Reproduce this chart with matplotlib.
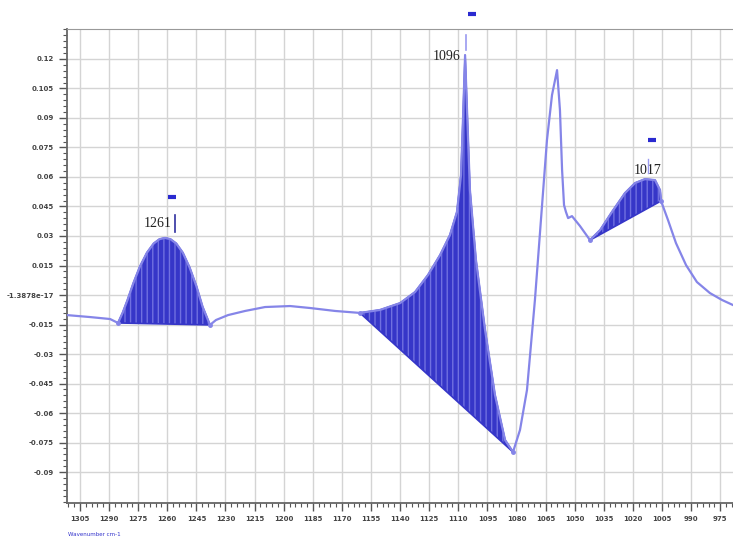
import numpy as np
import matplotlib
matplotlib.use("Agg")
import matplotlib.pyplot as plt
from matplotlib.ticker import MultipleLocator, FixedLocator

# spectrum trace (wavenumber, absorbance)
wavenumber = [1311.7, 1299.8, 1289.5, 1285.4, 1283.0, 1280.5, 1277.5, 1274.1, 1270.5,
              1267.0, 1264.0, 1261.2, 1258.4, 1255.4, 1252.0, 1248.5, 1245.0, 1241.8,
              1238.0, 1234.9, 1228.7,
              1219.9, 1209.6, 1196.7, 1186.4, 1173.5, 1160.7, 1150.4, 1140.0, 1132.3,
              1125.6, 1119.4, 1114.3, 1110.7, 1108.6, 1107.6, 1106.5, 1105.5, 1104.0,
              1100.9, 1096.2, 1091.1, 1085.9, 1081.8, 1078.2, 1074.6, 1070.5, 1067.4,
              1064.3, 1061.7, 1059.1, 1057.6, 1056.5, 1055.5, 1054.5, 1053.4, 1051.4,
              1047.3, 1042.1, 1036.9, 1030.8, 1024.1, 1018.9, 1013.8, 1008.6, 1006.0,
              1005.5, 1001.9, 997.8, 992.6, 987.0, 980.3, 974.1, 968.4]
absorbance = [-0.0102, -0.0112, -0.0122, -0.0142, -0.0090, -0.0025, 0.0060, 0.0145, 0.0215,
              0.0262, 0.0284, 0.0290, 0.0284, 0.0262, 0.0215, 0.0140, 0.0045, -0.0060,
              -0.0152, -0.0127, -0.0102,
              -0.0081, -0.0061, -0.0056, -0.0066, -0.0081, -0.0091, -0.0076, -0.0041, 0.0015,
              0.0102, 0.0203, 0.0305, 0.0422, 0.0610, 0.0889, 0.1219, 0.0940, 0.0533,
              0.0178, -0.0178, -0.0508, -0.0737, -0.0798, -0.0686, -0.0483, -0.0025, 0.0381,
              0.0787, 0.1016, 0.1143, 0.0940, 0.0635, 0.0457, 0.0422, 0.0391, 0.0401,
              0.0351, 0.0279, 0.0330, 0.0422, 0.0518, 0.0569, 0.0589, 0.0584, 0.0533,
              0.0478, 0.0381, 0.0264, 0.0152, 0.0066, 0.0010, -0.0025, -0.0051]

# integrated bands: (start, end) wavenumbers of the straight baseline
band_start = [1285.4, 1160.7, 1042.1]
band_end = [1238.0, 1081.8, 1005.5]

# peak labels and where they are written
peak_labels = ["1261", "1096", "1017"]
label_w = [1264.8, 1115.8, 1012.2]
label_a = [0.0361, 0.1210, 0.0635]
mark_w = [1257.6, 1103.0, 1010.1]
mark_a = [0.0498, 0.1428, 0.0787]

x_ticks = list(range(1305, 970, -15))
y_ticks = [-0.09, -0.075, -0.06, -0.045, -0.03, -0.015, 0.0, 0.015, 0.03,
           0.045, 0.06, 0.075, 0.09, 0.105, 0.12]
y_ticklabels = ["-0.09", "-0.075", "-0.06", "-0.045", "-0.03", "-0.015", "-1.3878e-17",
                "0.015", "0.03", "0.045", "0.06", "0.075", "0.09", "0.105", "0.12"]

LINE = "#8585e8"
FILL = "#3636c8"
HATCH = "#7070e0"

w = np.array(wavenumber)
a = np.array(absorbance)

fig = plt.figure(figsize=(7.33, 5.4), dpi=100)
ax = fig.add_axes([67 / 733, 1 - 503 / 540, 666 / 733, 474 / 540])

ax.grid(True, which="major", color="#d4d4d4", linewidth=1.0)
ax.set_axisbelow(True)

for ws, we in zip(band_start, band_end):
    m = (w <= ws) & (w >= we)
    bw, ba = w[m], a[m]
    i0, i1 = np.argmin(np.abs(w - ws)), np.argmin(np.abs(w - we))
    base = np.interp(bw, [w[i1], w[i0]], [a[i1], a[i0]])
    ax.fill_between(bw, ba, base, facecolor=FILL, edgecolor=HATCH, hatch="|||",
                    linewidth=0, zorder=2)
    ax.plot([w[i0], w[i1]], [a[i0], a[i1]], color=FILL, lw=1.2, zorder=3)
    ax.plot(bw, ba, color=FILL, lw=1.2, zorder=3)
    ax.plot([w[i0], w[i1]], [a[i0], a[i1]], "o", color=LINE, ms=2.5, zorder=4)

ax.plot(w, a, color=LINE, lw=1.6, zorder=3)

for lab, lw_, la in zip(peak_labels, label_w, label_a):
    ax.text(lw_, la, lab, family="Liberation Serif", fontsize=10, color="#222222",
            ha="center", va="center", zorder=5)
for mw, ma in zip(mark_w, mark_a):
    ax.plot([mw + 2.0, mw - 2.0], [ma, ma], color="#2a2ad0", lw=3, solid_capstyle="butt",
            clip_on=False, zorder=5)

# small vertical markers at the picked peaks
ax.plot([1256.0, 1256.0], [0.0320, 0.0407], color="#3030a0", lw=1.2, zorder=5)
ax.plot([1106.0, 1106.0], [0.1245, 0.1320], color="#9a9af0", lw=1.2, zorder=5)
ax.plot([1012.0, 1012.0], [0.0620, 0.0690], color="#9a9af0", lw=1.0, zorder=5)

ax.set_xlim(1311.7, 968.4)
ax.set_ylim(-0.1057, 0.1352)
ax.xaxis.set_major_locator(FixedLocator(x_ticks))
ax.xaxis.set_minor_locator(MultipleLocator(3))
ax.yaxis.set_major_locator(FixedLocator(y_ticks))
ax.yaxis.set_minor_locator(MultipleLocator(0.003))
ax.set_xticklabels([str(t) for t in x_ticks])
ax.set_yticklabels(y_ticklabels)
ax.tick_params(which="major", length=6, width=1.0, color="#555555",
               labelsize=5, labelcolor="#444444")
ax.tick_params(which="minor", length=3, width=0.8, color="#555555")
for lbl in ax.get_xticklabels() + ax.get_yticklabels():
    lbl.set_fontweight("bold")

for s in ("left", "bottom"):
    ax.spines[s].set_color("#666666")
    ax.spines[s].set_linewidth(1.3)
ax.spines["top"].set_color("#999999")
ax.spines["right"].set_visible(False)

fig.text(68 / 733, 1 - 536 / 540, "Wavenumber cm-1", fontsize=4, color="#3333cc")

fig.savefig("out.png", dpi=100)
